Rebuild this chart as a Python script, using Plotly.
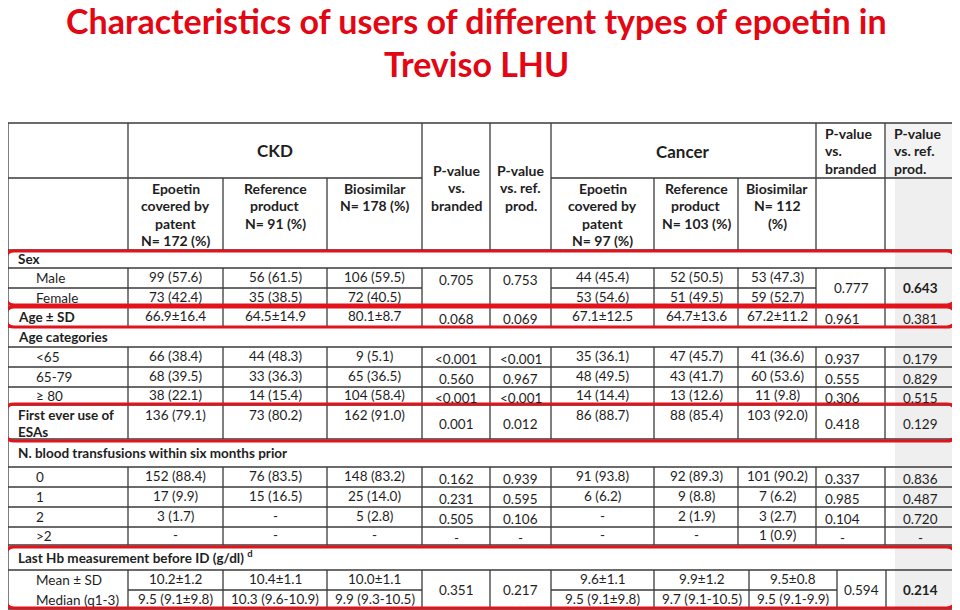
import plotly.graph_objects as go

# ---- table content ----
title_lines = ["Characteristics of users of different types of epoetin in", "Treviso LHU"]

ckd_header = ["Epoetin|covered by|patent|N= 172 (%)", "Reference|product|N= 91 (%)", "Biosimilar|N= 178 (%)"]
cancer_header = ["Epoetin|covered by|patent|N= 97 (%)", "Reference|product|N= 103 (%)", "Biosimilar|N= 112|(%)"]
pval_header = ["P-value|vs.|branded", "P-value|vs. ref.|prod."]

sections = ["Sex", "Age categories", "N. blood transfusions within six months prior",
            "Last Hb measurement before ID (g/dl) <sup>d</sup>"]

row_labels = ["Male", "Female", "Age ± SD", "<65", "65-79", "≥ 80", "First ever use of|ESAs",
              "0", "1", "2", ">2", "Mean ± SD", "Median (q1-3)"]

ckd_patent = ["99 (57.6)", "73 (42.4)", "66.9±16.4", "66 (38.4)", "68 (39.5)", "38 (22.1)", "136 (79.1)",
              "152 (88.4)", "17 (9.9)", "3 (1.7)", "-", "10.2±1.2", "9.5 (9.1±9.8)"]
ckd_ref = ["56 (61.5)", "35 (38.5)", "64.5±14.9", "44 (48.3)", "33 (36.3)", "14 (15.4)", "73 (80.2)",
           "76 (83.5)", "15 (16.5)", "-", "-", "10.4±1.1", "10.3 (9.6-10.9)"]
ckd_bio = ["106 (59.5)", "72 (40.5)", "80.1±8.7", "9 (5.1)", "65 (36.5)", "104 (58.4)", "162 (91.0)",
           "148 (83.2)", "25 (14.0)", "5 (2.8)", "-", "10.0±1.1", "9.9 (9.3-10.5)"]
ckd_p_branded = ["0.705", None, "0.068", "<0.001", "0.560", "<0.001", "0.001",
                 "0.162", "0.231", "0.505", "-", "0.351", None]
ckd_p_ref = ["0.753", None, "0.069", "<0.001", "0.967", "<0.001", "0.012",
             "0.939", "0.595", "0.106", "-", "0.217", None]

can_patent = ["44 (45.4)", "53 (54.6)", "67.1±12.5", "35 (36.1)", "48 (49.5)", "14 (14.4)", "86 (88.7)",
              "91 (93.8)", "6 (6.2)", "-", "-", "9.6±1.1", "9.5 (9.1±9.8)"]
can_ref = ["52 (50.5)", "51 (49.5)", "64.7±13.6", "47 (45.7)", "43 (41.7)", "13 (12.6)", "88 (85.4)",
           "92 (89.3)", "9 (8.8)", "2 (1.9)", "-", "9.9±1.2", "9.7 (9.1-10.5)"]
can_bio = ["53 (47.3)", "59 (52.7)", "67.2±11.2", "41 (36.6)", "60 (53.6)", "11 (9.8)", "103 (92.0)",
           "101 (90.2)", "7 (6.2)", "3 (2.7)", "1 (0.9)", "9.5±0.8", "9.5 (9.1-9.9)"]
can_p_branded = ["0.777", None, "0.961", "0.937", "0.555", "0.306", "0.418",
                 "0.337", "0.985", "0.104", "-", "0.594", None]
can_p_ref = ["0.643", None, "0.381", "0.179", "0.829", "0.515", "0.129",
             "0.836", "0.487", "0.720", "-", "0.214", None]

# ---- layout (pixels) ----
FONT = "Lato"
LINE = "#3a3a3a"
RED = "#e1141c"
TXT = "#1e1e1e"
BODY = 13.5
HEAD = 14

# the page has an 8px body margin, so the figure is drawn 8px in from the corner
OFF = 8

cols = [8, 128, 223, 327, 422, 490, 551, 654, 738, 816, 885, 955]
cols_hb = [8, 128, 223, 327, 422, 490, 551, 654, 749, 837, 886, 955]
row_mid = [278, 297.5, 317, 357, 377, 396, 422, 477, 497, 517, 536, 580, 599.5]
section_mid = [259, 337, 453, 557]
bold_rows = {2, 6}
indent_rows = {0, 1, 3, 4, 5, 7, 8, 9, 10, 11, 12}

shapes = []
ann = []


def hline(y, x0, x1):
    shapes.append(dict(type="line", x0=x0, x1=x1, y0=y, y1=y, line=dict(color=LINE, width=1.3)))


def vline(x, y0, y1):
    shapes.append(dict(type="line", x0=x, x1=x, y0=y0, y1=y1, line=dict(color=LINE, width=1.3)))


def text(x, y, s, size=BODY, bold=False, anchor="center", color=TXT):
    if bold:
        s = "<b>" + s + "</b>"
    ann.append(dict(x=x, y=y, text=s, showarrow=False, xanchor=anchor, yanchor="middle",
                    font=dict(family=FONT, size=size, color=color)))


def multiline(x, y0, s, step=17.5, anchor="center"):
    for i, part in enumerate(s.split("|")):
        text(x, y0 + i * step, part, size=HEAD, bold=True, anchor=anchor)


def rounded(x0, y0, x1, y1, r=8):
    p = (f"M {x0+r},{y0} L {x1-r},{y0} Q {x1},{y0} {x1},{y0+r} L {x1},{y1-r} Q {x1},{y1} {x1-r},{y1} "
         f"L {x0+r},{y1} Q {x0},{y1} {x0},{y1-r} L {x0},{y0+r} Q {x0},{y0} {x0+r},{y0} Z")
    shapes.append(dict(type="path", path=p, line=dict(color=RED, width=3.2), layer="above"))


# grey last column
shapes.append(dict(type="rect", x0=886, x1=955, y0=123, y1=178, fillcolor="#f3f3f3", line=dict(width=0), layer="below"))
shapes.append(dict(type="rect", x0=895, x1=955, y0=178, y1=609, fillcolor="#efefef", line=dict(width=0), layer="below"))

# horizontal rules
hline(123, 8, 955)
hline(178, 8, 422)
hline(178, 551, 955)
for y in [250, 268, 307, 327, 347, 367, 387, 405, 439, 467, 487, 507, 527, 545, 570, 609]:
    hline(y, 8, 955)
hline(288, 8, 422)
hline(288, 551, 816)
hline(590, 128, 422)
hline(590, 551, 837)

# vertical rules
vline(8, 123, 609)
vline(955, 123, 609)
for x in [128, 422, 490, 551, 816, 885]:
    vline(x, 123, 250)
for x in [223, 327, 654, 738]:
    vline(x, 178, 250)
for y0, y1 in [(268, 327), (347, 439), (467, 545)]:
    for x in cols[1:-1]:
        vline(x, y0, y1)
for x in cols_hb[1:-1]:
    vline(x, 570, 609)

# header text
text(275, 150, "CKD", size=17, bold=True)
text(683, 151, "Cancer", size=17, bold=True)
for i, h in enumerate(ckd_header):
    multiline((cols[i + 1] + cols[i + 2]) / 2, 188, h)
for i, h in enumerate(cancer_header):
    multiline((cols[i + 6] + cols[i + 7]) / 2, 188, h)
multiline(456, 170, pval_header[0])
multiline(520.5, 170, pval_header[1])
multiline(823, 133, pval_header[0], anchor="left")
multiline(892, 133, pval_header[1], anchor="left")

# section rows
for s, y in zip(sections, section_mid):
    text(16, y, s, bold=True, anchor="left")

# body rows
value_cols = [ckd_patent, ckd_ref, ckd_bio, None, None, can_patent, can_ref, can_bio]
pval_cols = {3: ckd_p_branded, 4: ckd_p_ref, 8: can_p_branded, 9: can_p_ref}
n = len(row_labels)
for r in range(n):
    cc = cols_hb if r >= 11 else cols
    ym = row_mid[r]
    lbl = row_labels[r]
    if "|" in lbl:
        parts = lbl.split("|")
        text(16, 415, parts[0], bold=True, anchor="left")
        text(16, 432, parts[1], bold=True, anchor="left")
    else:
        text(34 if r in indent_rows else 16, ym, lbl, bold=(r in bold_rows), anchor="left")
    vy = 415 if r == 6 else ym - 1
    for c, arr in enumerate(value_cols):
        if arr is None:
            continue
        text((cc[c + 1] + cc[c + 2]) / 2, vy, arr[r])
    for c, arr in pval_cols.items():
        v = arr[r]
        if v is None:
            continue
        x = (cc[c + 1] + cc[c + 2]) / 2
        if c == 8 and r < 11:
            x -= 8
        y = ym + 1.5
        if (r + 1 < n and arr[r + 1] is None and c >= 8) or r == 11:
            y = (ym + row_mid[r + 1]) / 2
            if c == 8 and r < 11:
                x += 9
        bold = c == 9 and v in ("0.643", "0.214")
        text(x, y, v, bold=bold)

# red highlight boxes
rounded(6, 251, 955, 305)
rounded(6, 307, 955, 327)
rounded(6, 404, 955, 441)
rounded(6, 547, 955, 608)

# title
text(476, 20, title_lines[0], size=34, bold=True, color="#e30613")
text(476, 63, title_lines[1], size=34, bold=True, color="#e30613")

fig = go.Figure()
fig.update_layout(
    width=960 - OFF, height=610 - OFF,
    margin=dict(l=0, r=0, t=0, b=0),
    paper_bgcolor="white", plot_bgcolor="white",
    xaxis=dict(range=[OFF, 960], visible=False, fixedrange=True),
    yaxis=dict(range=[610, OFF], visible=False, fixedrange=True),
    shapes=shapes, annotations=ann, showlegend=False,
)
fig.write_html("out.html")
